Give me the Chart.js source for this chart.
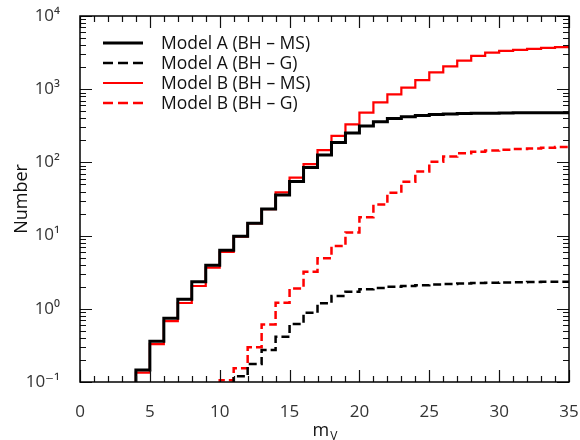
<!DOCTYPE html>
<html>
<head>
<meta charset="utf-8">
<script src="https://cdn.jsdelivr.net/npm/chart.js@4.4.1/dist/chart.umd.min.js"></script>
<style>
  html, body { margin: 0; padding: 0; background: #fff; }
</style>
</head>
<body>
<canvas id="cumChart" width="580" height="440"></canvas>
<script>
// lower edges of the 1-mag bins; the last bin closes at 35
const magBins = [4, 5, 6, 7, 8, 9, 10, 11, 12, 13, 14, 15, 16, 17, 18, 19,
                 20, 21, 22, 23, 24, 25, 26, 27, 28, 29, 30, 31, 32, 33, 34];
const magMax = 35;

// cumulative counts per bin (null = below the plotted floor)
const modelA_MS = [0.146, 0.36, 0.74, 1.35, 2.35, 3.95, 6.3, 9.8, 14.8, 23, 36, 55, 85, 126, 187, 252,
                   315, 360, 398, 422, 438, 450, 458, 464, 468, 471, 473, 475, 476, 477, 478];
const modelA_G  = [null, null, null, null, null, null, null, 0.12, 0.176, 0.274, 0.415, 0.62, 0.88, 1.19, 1.5, 1.71,
                   1.85, 1.92, 2.0, 2.05, 2.1, 2.15, 2.19, 2.22, 2.25, 2.27, 2.29, 2.31, 2.33, 2.34, 2.35];
const modelB_MS = [0.134, 0.33, 0.68, 1.2, 2.05, 3.65, 6.0, 9.7, 14.7, 23, 39, 62, 95, 147, 230, 330,
                   480, 660, 850, 1050, 1330, 1700, 2050, 2450, 2850, 3150, 3330, 3450, 3560, 3660, 3750];
const modelB_G  = [null, null, null, null, null, null, 0.106, 0.154, 0.298, 0.61, 1.21, 1.9, 3.2, 4.9, 7.2, 11,
                   17.8, 26.5, 38.5, 54.5, 75, 102, 120, 133, 140, 145, 149, 152, 155, 158, 162];

const seriesNames = ['Model A (BH \u2013 MS)', 'Model A (BH \u2013 G)', 'Model B (BH \u2013 MS)', 'Model B (BH \u2013 G)'];
const yDecades = [0.1, 1, 10, 100, 1000, 10000];
const Y_MIN = 0.1, Y_MAX = 10000;

const FONT = "'Open Sans', 'DejaVu Sans', sans-serif";

// turn a bin array into stepped points; empty bins sit below the axis floor
function toSteps(values) {
    const floor = Y_MIN / 10;
    const pts = [{ x: magBins[0], y: floor }];
    values.forEach((v, i) => {
        pts.push({ x: magBins[i], y: v === null ? floor : v });
    });
    pts.push({ x: magMax, y: values[values.length - 1] });
    return pts;
}

const SUP = { '-': '\u207B', '0': '\u2070', '1': '\u00B9', '2': '\u00B2', '3': '\u00B3',
              '4': '\u2074', '5': '\u2075', '6': '\u2076', '7': '\u2077', '8': '\u2078', '9': '\u2079' };
function powLabel(v) {
    const e = String(Math.round(Math.log10(v)));
    return '10' + e.split('').map(c => SUP[c]).join('');
}

const styles = [
    { color: '#000000', width: 3,   dash: [] },
    { color: '#000000', width: 2.5, dash: [8, 4] },
    { color: '#ff0000', width: 2.2, dash: [] },
    { color: '#ff0000', width: 2.5, dash: [8, 4] }
];
const seriesData = [modelA_MS, modelA_G, modelB_MS, modelB_G];

// minor tick values on the log axis: 2..9 times each decade
const minorLog = [];
yDecades.slice(0, -1).forEach(d => { for (let k = 2; k <= 9; k++) minorLog.push(k * d); });

// inward ticks on all four sides, black frame, x title
const frameTicks = {
    id: 'frameTicks',
    afterDraw(chart) {
        const { ctx, chartArea: a } = chart;
        const xs = chart.scales.x, ys = chart.scales.y;
        ctx.save();
        ctx.setLineDash([]);
        ctx.strokeStyle = '#111';
        ctx.lineWidth = 1.2;
        ctx.beginPath();
        for (let m = 0; m <= magMax; m++) {
            const px = Math.round(xs.getPixelForValue(m)) + 0.5;
            const len = m % 5 === 0 ? 12 : 6;
            ctx.moveTo(px, a.bottom); ctx.lineTo(px, a.bottom - len);
            ctx.moveTo(px, a.top);    ctx.lineTo(px, a.top + len);
        }
        const yTicks = yDecades.map(v => [v, 12]).concat(minorLog.map(v => [v, 6]));
        yTicks.forEach(([v, len]) => {
            const py = Math.round(ys.getPixelForValue(v)) + 0.5;
            ctx.moveTo(a.left, py);  ctx.lineTo(a.left + len, py);
            ctx.moveTo(a.right, py); ctx.lineTo(a.right - len, py);
        });
        ctx.stroke();

        ctx.strokeStyle = '#000';
        ctx.lineWidth = 1.5;
        ctx.strokeRect(a.left, a.top, a.right - a.left, a.bottom - a.top);

        // x title: m with subscript V
        ctx.fillStyle = '#111';
        ctx.textBaseline = 'alphabetic';
        ctx.font = '18px ' + FONT;
        const mW = ctx.measureText('m').width;
        ctx.font = '12px ' + FONT;
        const vW = ctx.measureText('V').width;
        const x0 = (a.left + a.right) / 2 - (mW + vW) / 2;
        ctx.textAlign = 'left';
        ctx.font = '18px ' + FONT;
        ctx.fillText('m', x0, 436);
        ctx.font = '12px ' + FONT;
        ctx.fillText('V', x0 + mW + 1, 440);
        ctx.restore();
    }
};

// legend box inside the top-left of the plot
const innerLegend = {
    id: 'innerLegend',
    afterDraw(chart) {
        const { ctx } = chart;
        ctx.save();
        ctx.font = '17.5px ' + FONT;
        ctx.textBaseline = 'middle';
        ctx.textAlign = 'left';
        seriesNames.forEach((name, i) => {
            const rowY = 43 + i * 20;
            const s = styles[i];
            ctx.strokeStyle = s.color;
            ctx.lineWidth = s.width;
            ctx.setLineDash(s.dash.length ? [10, 5] : []);
            ctx.beginPath();
            ctx.moveTo(103, rowY);
            ctx.lineTo(143, rowY);
            ctx.stroke();
            ctx.setLineDash([]);
            ctx.fillStyle = '#111';
            ctx.fillText(name, 161, rowY + 1);
        });
        ctx.restore();
    }
};

new Chart(document.getElementById('cumChart'), {
    type: 'line',
    data: {
        datasets: seriesData.map((vals, i) => ({
            label: seriesNames[i],
            data: toSteps(vals),
            stepped: 'before',
            borderColor: styles[i].color,
            borderWidth: styles[i].width,
            borderDash: styles[i].dash,
            pointRadius: 0,
            fill: false,
            clip: 0
        }))
    },
    options: {
        responsive: false,
        animation: false,
        devicePixelRatio: 1,
        layout: { padding: { top: 16, right: 11, left: 0, bottom: 0 } },
        plugins: {
            legend: { display: false },
            tooltip: { enabled: false }
        },
        scales: {
            x: {
                type: 'linear',
                min: 0,
                max: magMax,
                grid: { display: false },
                border: { display: false },
                ticks: {
                    stepSize: 5,
                    padding: 12,
                    color: '#333',
                    font: { family: FONT, size: 17 }
                },
                afterFit(scale) {
                    scale.height = 58;
                    // the "35" label may hang past the frame
                    scale.paddingRight = 0;
                    scale.paddingLeft = 0;
                }
            },
            y: {
                type: 'logarithmic',
                min: Y_MIN,
                max: Y_MAX,
                grid: { display: false },
                border: { display: false },
                afterBuildTicks(scale) {
                    scale.ticks = yDecades.map(v => ({ value: v, major: true }));
                },
                ticks: {
                    padding: 12,
                    color: '#333',
                    font: { family: FONT, size: 17 },
                    callback: (v) => powLabel(v)
                },
                title: {
                    display: true,
                    text: 'Number',
                    color: '#111',
                    font: { family: FONT, size: 18 },
                    padding: { top: 11, bottom: 0 }
                },
                afterFit(scale) {
                    scale.width = 80;
                    scale.paddingTop = 0;
                    scale.paddingBottom = 0;
                }
            }
        }
    },
    plugins: [frameTicks, innerLegend]
});
</script>
</body>
</html>
